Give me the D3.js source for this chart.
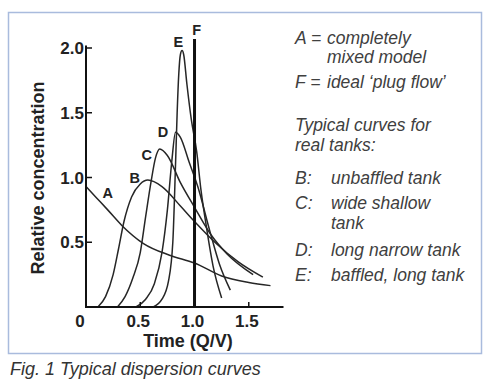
<!DOCTYPE html>
<html>
<head>
<meta charset="utf-8">
<script src="https://cdn.jsdelivr.net/npm/d3@7"></script>
<style>
  body { margin: 0; background: #fff; }
  svg { display: block; font-family: "Liberation Sans", Arial, sans-serif; }
  .tick-label { font-size: 17px; font-weight: bold; fill: #222; }
  .axis-title { font-size: 18px; font-weight: bold; fill: #222; }
  .curve-label { font-size: 14.5px; font-weight: bold; fill: #222; }
  .legend { font-size: 17.5px; font-style: italic; fill: #404040; }
  .caption { font-size: 18px; font-style: italic; fill: #333; }
</style>
</head>
<body>
<div id="chart"></div>
<script>
const width = 496, height = 381;

// curves: time (Q/V) and relative concentration
const tA = [0, 0.1, 0.2, 0.33, 0.53, 0.77, 1.0, 1.25, 1.5, 1.7];
const vA = [0.93, 0.84, 0.75, 0.63, 0.49, 0.40, 0.34, 0.24, 0.19, 0.165];
const tB = [0.11, 0.18, 0.25, 0.3, 0.35, 0.42, 0.5, 0.57, 0.7, 0.87, 1.0, 1.2, 1.4, 1.63];
const vB = [0, 0.08, 0.25, 0.45, 0.66, 0.85, 0.95, 0.98, 0.93, 0.78, 0.66, 0.49, 0.35, 0.23];
const tC = [0.29, 0.36, 0.43, 0.5, 0.55, 0.6, 0.64, 0.68, 0.75, 0.87, 1.0, 1.15, 1.3, 1.54];
const vC = [0, 0.08, 0.22, 0.42, 0.7, 0.97, 1.15, 1.22, 1.17, 0.96, 0.77, 0.56, 0.41, 0.25];
const tD = [0.46, 0.55, 0.63, 0.7, 0.75, 0.79, 0.825, 0.87, 0.95, 1.03, 1.14, 1.23, 1.33];
const vD = [0, 0.06, 0.18, 0.42, 0.75, 1.12, 1.35, 1.31, 1.12, 0.93, 0.59, 0.33, 0.13];
const tE = [0.62, 0.7, 0.76, 0.8, 0.825, 0.84, 0.855, 0.87, 0.885, 0.9, 0.93, 0.97, 1.02, 1.06, 1.1, 1.17, 1.25];
const vE = [0, 0.06, 0.2, 0.5, 1.1, 1.5, 1.8, 1.95, 1.98, 1.95, 1.72, 1.45, 1.2, 0.9, 0.67, 0.32, 0.07];
const plugT = 1.0;

const curveNames = ['A', 'B', 'C', 'D', 'E'];
const labelT = [0.2, 0.45, 0.56, 0.71, 0.85, 1.02];
const labelV = [0.88, 1.0, 1.17, 1.35, 2.05, 2.14];
const labelNames = ['A', 'B', 'C', 'D', 'E', 'F'];

const xTicks = [0.5, 1.0, 1.5];
const yTicks = [0.5, 1.0, 1.5, 2.0];

const legendLines = [
  ['A =', 'completely'],
  ['', 'mixed model'],
  ['F =', 'ideal \u2018plug flow\u2019'],
  null,
  ['Typical curves for', ''],
  ['real tanks:', ''],
  ['B:', 'unbaffled tank'],
  ['C:', 'wide shallow'],
  ['', 'tank'],
  ['D:', 'long narrow tank'],
  ['E:', 'baffled, long tank']
];
const legendY = [44, 63, 88, null, 131, 151, 184, 209, 229, 256, 281];

const svg = d3.select('#chart').append('svg')
  .attr('width', width).attr('height', height);

// frame
svg.append('rect')
  .attr('x', 8.5).attr('y', 12.5)
  .attr('width', 473).attr('height', 341)
  .attr('fill', 'none')
  .attr('stroke', '#a9bbdd')
  .attr('stroke-width', 1.5);

const x = d3.scaleLinear().domain([0, 1.82]).range([86, 283.5]);
const y = d3.scaleLinear().domain([0, 2.0]).range([307, 48]);

const series = [[tA, vA], [tB, vB], [tC, vC], [tD, vD], [tE, vE]].map((s, i) => ({
  name: curveNames[i],
  values: s[0].map((t, j) => ({t: t, v: s[1][j]}))
}));

const line = d3.line()
  .x(d => x(d.t))
  .y(d => y(d.v))
  .curve(d3.curveMonotoneX);

svg.append('g').selectAll('path')
  .data(series)
  .enter()
  .append('path')
  .attr('d', d => line(d.values))
  .attr('fill', 'none')
  .attr('stroke', '#262626')
  .attr('stroke-width', 1.5);

// plug flow line F
svg.append('line')
  .attr('x1', x(plugT)).attr('x2', x(plugT))
  .attr('y1', y(0)).attr('y2', y(2.07))
  .attr('stroke', '#111')
  .attr('stroke-width', 3);

// axes
const axisG = svg.append('g');
axisG.append('line')
  .attr('x1', x(0)).attr('x2', x(0))
  .attr('y1', y(0) + 1).attr('y2', y(2.02))
  .attr('stroke', '#111').attr('stroke-width', 2);
axisG.append('line')
  .attr('x1', x(0) - 1).attr('x2', x(1.82))
  .attr('y1', y(0)).attr('y2', y(0))
  .attr('stroke', '#111').attr('stroke-width', 2);

axisG.selectAll('.ytick')
  .data(yTicks)
  .enter()
  .append('line')
  .attr('x1', x(0)).attr('x2', x(0) + 6)
  .attr('y1', d => y(d)).attr('y2', d => y(d))
  .attr('stroke', '#111').attr('stroke-width', 1.5);
axisG.selectAll('.xtick')
  .data(xTicks)
  .enter()
  .append('line')
  .attr('x1', d => x(d)).attr('x2', d => x(d))
  .attr('y1', y(0)).attr('y2', y(0) - 5)
  .attr('stroke', '#111').attr('stroke-width', 1.5);

axisG.selectAll('.ylab')
  .data(yTicks)
  .enter()
  .append('text')
  .attr('class', 'tick-label')
  .attr('x', x(0) - 2)
  .attr('y', d => y(d) + 6)
  .attr('text-anchor', 'end')
  .text(d => d.toFixed(1));
axisG.selectAll('.xlab')
  .data(xTicks)
  .enter()
  .append('text')
  .attr('class', 'tick-label')
  .attr('x', d => x(d) - 2)
  .attr('y', y(0) + 20)
  .attr('text-anchor', 'middle')
  .text(d => d.toFixed(1));
axisG.append('text')
  .attr('class', 'tick-label')
  .attr('x', x(0) - 6)
  .attr('y', y(0) + 20)
  .attr('text-anchor', 'middle')
  .text('0');

svg.append('text')
  .attr('class', 'axis-title')
  .attr('x', 188).attr('y', 347)
  .attr('text-anchor', 'middle')
  .text('Time (Q/V)');
svg.append('text')
  .attr('class', 'axis-title')
  .attr('transform', 'translate(44,178) rotate(-90)')
  .attr('text-anchor', 'middle')
  .text('Relative concentration');

// curve letters
svg.selectAll('.curve-label')
  .data(labelNames)
  .enter()
  .append('text')
  .attr('class', 'curve-label')
  .attr('x', (d, i) => x(labelT[i]))
  .attr('y', (d, i) => y(labelV[i]) + 5)
  .attr('text-anchor', 'middle')
  .text(d => d);

// legend text
const legendG = svg.append('g');
legendLines.forEach((l, i) => {
  if (!l) return;
  const tx = i < 3 ? 327 : 331;
  if (l[0]) legendG.append('text').attr('class', 'legend')
    .attr('x', 295).attr('y', legendY[i]).text(l[0]);
  if (l[1]) legendG.append('text').attr('class', 'legend')
    .attr('x', tx).attr('y', legendY[i]).text(l[1]);
});

svg.append('text')
  .attr('class', 'caption')
  .attr('x', 10).attr('y', 375)
  .text('Fig. 1 Typical dispersion curves');
</script>
</body>
</html>
